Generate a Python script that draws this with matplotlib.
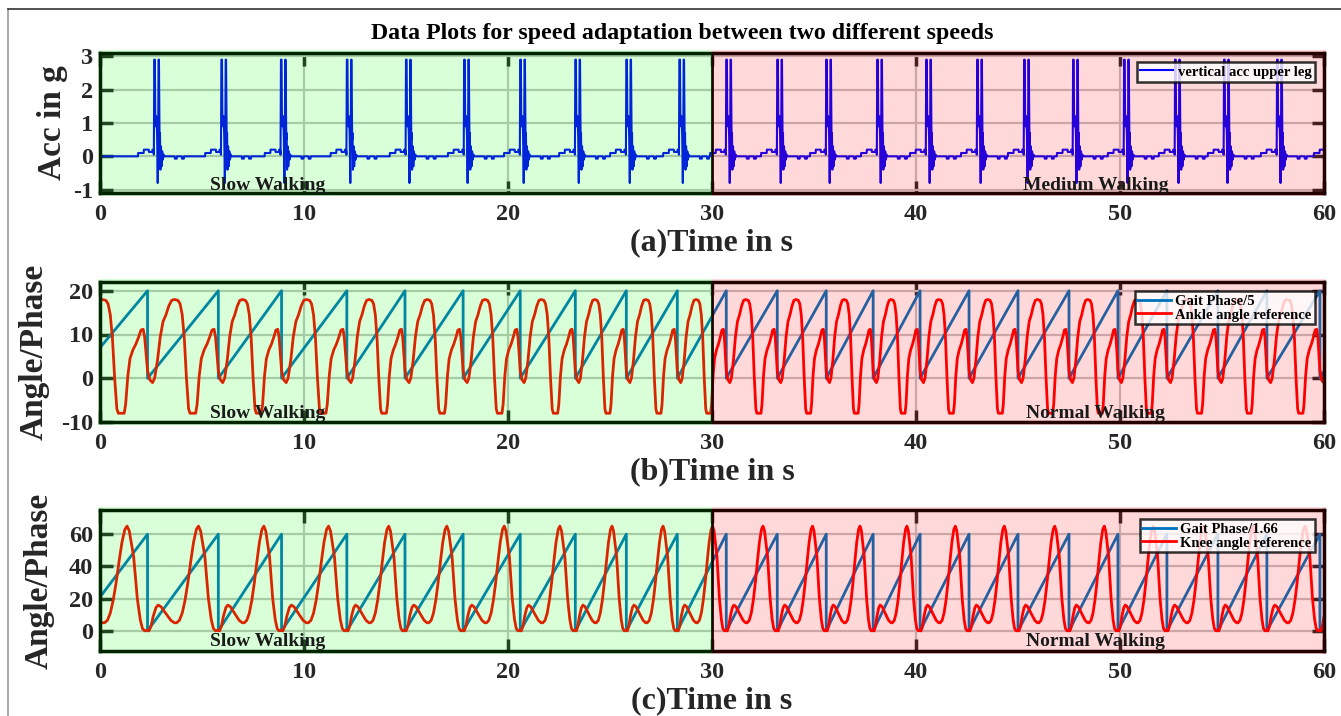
import numpy as np
import matplotlib
matplotlib.use('Agg')
import matplotlib.pyplot as plt
from matplotlib.patches import Rectangle
from matplotlib.lines import Line2D

plt.rcParams['font.family'] = ['Liberation Serif', 'DejaVu Serif']
plt.rcParams['font.weight'] = 'bold'
plt.rcParams['axes.unicode_minus'] = False

# ---- data ----
# heel strike / gait phase reset times (s); first and last are just outside the view
resets = [-1.25, 2.33, 5.8, 8.9, 12.1, 14.95, 17.8, 20.6, 23.3, 25.8, 28.3,
          30.7, 33.2, 35.6, 37.9, 40.2, 42.6, 45.0, 47.5, 49.9, 52.3, 54.8,
          57.2, 59.8, 62.3]
# acc spike times (s)
spikes = [2.66, 5.95, 8.87, 12.1, 15.0, 17.85, 20.6, 23.3, 25.8, 28.4, 30.7,
          33.2, 35.6, 38.1, 40.5, 43.0, 45.3, 47.7, 50.2, 52.7, 55.1, 57.7, 60.3]

# one step of vertical acc around the spike (time offset s, value g)
acc_dt = [-0.80, -0.79, -0.52, -0.51, -0.27, -0.26, -0.10, -0.09, -0.04, -0.02,
          0.00, 0.03, 0.05, 0.08, 0.11, 0.14, 0.17, 0.19, 0.21, 0.23, 0.26, 0.28,
          0.30, 0.33, 0.36, 0.39, 0.42, 0.46, 0.50,
          1.00, 1.01, 1.10, 1.11, 1.35, 1.36, 1.45, 1.46]
acc_v = [0.00, 0.10, 0.10, 0.20, 0.20, 0.13, 0.13, 0.20, 0.20, 0.05,
         2.90, 2.90, 1.10, 0.90, 1.20, 0.60, -0.80, 0.40, 2.90, 2.90, 0.50, 0.70,
         -0.40, 0.30, -0.30, 0.15, -0.10, 0.05, 0.00,
         0.00, -0.07, -0.07, 0.00, 0.00, -0.07, -0.07, 0.00]

# ankle angle reference over one gait cycle (phase 0..1, deg)
ankle_phase = [0.00, 0.03, 0.07, 0.10, 0.14, 0.18, 0.22, 0.26, 0.30, 0.34, 0.38,
               0.43, 0.46, 0.49, 0.52, 0.55, 0.58, 0.60, 0.68, 0.70, 0.73, 0.76,
               0.80, 0.84, 0.88, 0.91, 0.94, 0.96, 0.98, 1.00]
ankle_val = [1.8, -0.3, -1.0, 0.0, 4.0, 9.5, 13.0, 14.5, 16.5, 17.8, 18.0,
             17.8, 17.0, 14.5, 9.0, 0.0, -7.0, -8.0, -8.0, -6.0, 0.5, 4.5,
             6.5, 7.8, 9.5, 11.0, 11.2, 9.5, 5.5, 1.8]

# knee angle reference over one gait cycle (phase 0..1, deg)
knee_phase = [0.00, 0.02, 0.05, 0.08, 0.12, 0.15, 0.19, 0.23, 0.28, 0.33, 0.38,
              0.41, 0.45, 0.49, 0.53, 0.57, 0.61, 0.65, 0.69, 0.72, 0.75, 0.78,
              0.81, 0.86, 0.90, 0.93, 0.96, 1.00]
knee_val = [0.5, 0.0, 3.0, 9.0, 14.5, 16.0, 15.0, 12.5, 9.5, 6.5, 5.0,
            5.0, 6.5, 11.0, 19.0, 30.0, 43.0, 55.0, 63.0, 65.0, 62.0, 54.0,
            46.0, 20.0, 7.0, 1.5, 0.0, 0.5]

phase_max_b = 20   # Gait Phase/5
phase_max_c = 60   # Gait Phase/1.66


def repeat_cycle(ph, val):
    xs, ys = [], []
    for a, b in zip(resets[:-1], resets[1:]):
        xs += [a + p * (b - a) for p in ph]
        ys += list(val)
    return xs, ys


def sawtooth(top):
    xs, ys = [], []
    for a, b in zip(resets[:-1], resets[1:]):
        xs += [a, b]
        ys += [0, top]
    return xs, ys


acc_x, acc_y = [], []
for s in spikes:
    acc_x += [s + d for d in acc_dt]
    acc_y += acc_v
acc_x = [0.0] + acc_x
acc_y = [0.0] + acc_y

fig = plt.figure(figsize=(13.41, 7.16), dpi=100)
W, H = 1341, 716

# frame around the figure
fig.add_artist(Line2D([8 / W, 8 / W], [0, 1 - 9 / H], color='#9a9a9a', lw=1.2))
fig.add_artist(Line2D([8 / W, 1], [1 - 9 / H, 1 - 9 / H], color='#333333', lw=1.2))

fig.text(682 / W, 1 - 33 / H, 'Data Plots for speed adaptation between two different speeds',
         ha='center', va='center', fontsize=17.2, fontweight='bold')

left, width = 100 / W, 1224 / W
ax_a = fig.add_axes([left, 1 - 193 / H, width, 140 / H])
ax_b = fig.add_axes([left, 1 - 422 / H, width, 140 / H])
ax_c = fig.add_axes([left, 1 - 651 / H, width, 141 / H])


def style(ax, ylim, yticks, xlabel, ylabel, lab_x, walk_txt, txt_y):
    ax.set_xlim(0, 60)
    ax.set_ylim(*ylim)
    ax.set_xticks(range(0, 61, 10))
    ax.set_yticks(yticks)
    ax.tick_params(direction='in', top=True, right=True, length=9, width=2.5,
                   labelsize=17.5, colors='#262626')
    ax.tick_params(axis='x', pad=8)
    ax.tick_params(axis='y', pad=5)
    for lab in ax.get_xticklabels() + ax.get_yticklabels():
        lab.set_fontweight('bold')
    for sp in ax.spines.values():
        sp.set_linewidth(2.5)
        sp.set_color('black')
    ax.grid(True, color='#c4c4c4', lw=1.6)
    ax.set_xlabel(xlabel, fontsize=23, fontweight='bold', color='#262626', labelpad=2)
    ax.set_ylabel(ylabel, fontsize=24, fontweight='bold', color='#262626')
    ax.yaxis.set_label_coords(lab_x, 0.5)
    ax.axvline(30, color='black', lw=2, zorder=2.6)
    tr = ax.get_xaxis_transform()
    ax.add_patch(Rectangle((-0.12, -0.02), 30.12, 1.04, transform=tr, clip_on=False,
                           facecolor=(0, 1, 0), alpha=0.15, lw=0, zorder=3))
    ax.add_patch(Rectangle((30, -0.02), 30.12, 1.04, transform=tr, clip_on=False,
                           facecolor=(1, 0, 0), alpha=0.15, lw=0, zorder=3))
    ax.text(8.2, txt_y, 'Slow Walking', transform=tr, ha='center', va='baseline',
            fontsize=14, fontweight='bold', color='#1a1a1a', zorder=4)
    ax.text(48.8, txt_y, walk_txt, transform=tr, ha='center', va='baseline',
            fontsize=14, fontweight='bold', color='#1a1a1a', zorder=4)


def legend(ax):
    leg = ax.legend(loc='upper right', fontsize=10.5, frameon=True, fancybox=False,
                    borderaxespad=0.65, borderpad=0.2, labelspacing=0.05,
                    handlelength=2.3, handletextpad=0.3)
    leg.get_frame().set_edgecolor('black')
    leg.get_frame().set_linewidth(1.8)
    leg.set_zorder(5)
    for t in leg.get_texts():
        t.set_fontweight('bold')


# (a) acceleration
ax_a.plot(acc_x, acc_y, color='blue', lw=1.5, label='vertical acc upper leg', zorder=2)
style(ax_a, (-1.1, 3.1), [-1, 0, 1, 2, 3], '(a)Time in s', 'Acc in g', -0.026,
      'Medium Walking', 0.025)
legend(ax_a)

# (b) ankle
sx, sy = sawtooth(phase_max_b)
ax_b.plot(sx, sy, color='#0072BD', lw=2, label='Gait Phase/5', zorder=2)
ax_x, ax_y = repeat_cycle(ankle_phase, ankle_val)
ax_b.plot(ax_x, ax_y, color='red', lw=2, label='Ankle angle reference', zorder=2)
style(ax_b, (-10, 22), [-10, 0, 10, 20], '(b)Time in s', 'Angle/Phase', -0.041,
      'Normal Walking', 0.03)
legend(ax_b)

# (c) knee
sx, sy = sawtooth(phase_max_c)
ax_c.plot(sx, sy, color='#0072BD', lw=2, label='Gait Phase/1.66', zorder=2)
kx, ky = repeat_cycle(knee_phase, knee_val)
ax_c.plot(kx, ky, color='red', lw=2, label='Knee angle reference', zorder=2)
style(ax_c, (-12.5, 75), [0, 20, 40, 60], '(c)Time in s', 'Angle/Phase', -0.037,
      'Normal Walking', 0.035)
legend(ax_c)

fig.savefig('out.png', dpi=100)
